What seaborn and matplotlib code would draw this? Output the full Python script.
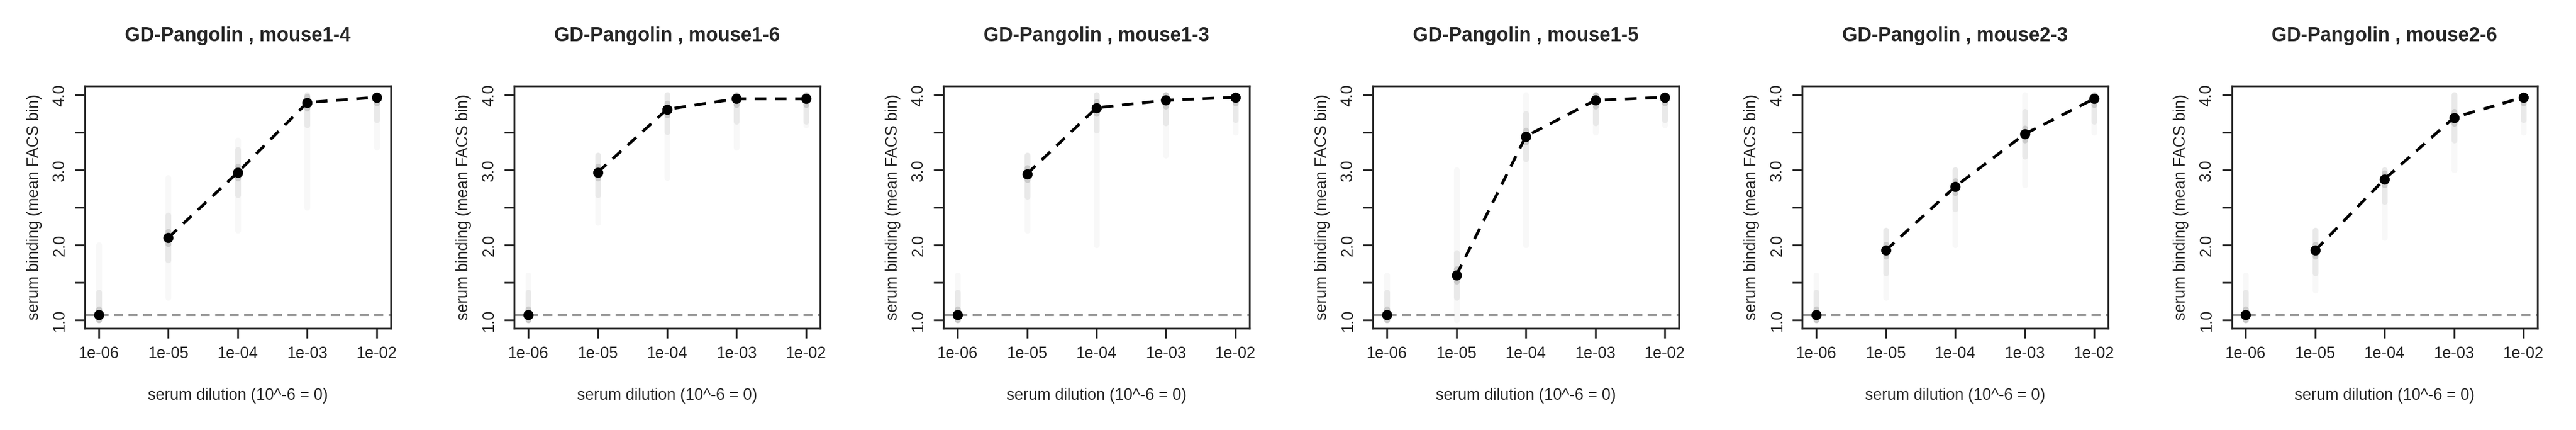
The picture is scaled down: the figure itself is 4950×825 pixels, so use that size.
import matplotlib
matplotlib.use("Agg")
import matplotlib.pyplot as plt
import seaborn as sns
import pandas as pd
import numpy as np

# ── data ─────────────────────────────────────────────────────
dilutions = [1e-6, 1e-5, 1e-4, 1e-3, 1e-2]
tick_labels = ["1e-06", "1e-05", "1e-04", "1e-03", "1e-02"]
mice = ["mouse1-4", "mouse1-6", "mouse1-3", "mouse1-5", "mouse2-3", "mouse2-6"]
means = {
    "mouse1-4": [1.07, 2.10, 2.97, 3.90, 3.97],
    "mouse1-6": [1.07, 2.97, 3.81, 3.95, 3.95],
    "mouse1-3": [1.07, 2.95, 3.83, 3.93, 3.97],
    "mouse1-5": [1.07, 1.60, 3.45, 3.93, 3.97],
    "mouse2-3": [1.07, 1.93, 2.78, 3.48, 3.95],
    "mouse2-6": [1.07, 1.93, 2.88, 3.70, 3.97],
}
# faint per-variant spread (ends of the grey streaks)
spread_lo = {
    "mouse1-4": [1.0, 1.3, 2.2, 2.5, 3.3],
    "mouse1-6": [1.0, 2.3, 2.9, 3.3, 3.6],
    "mouse1-3": [1.0, 2.2, 2.0, 3.2, 3.5],
    "mouse1-5": [1.0, 1.0, 2.0, 3.5, 3.6],
    "mouse2-3": [1.0, 1.3, 2.0, 2.8, 3.5],
    "mouse2-6": [1.0, 1.4, 2.1, 3.0, 3.5],
}
spread_hi = {
    "mouse1-4": [2.0, 2.9, 3.4, 4.0, 4.0],
    "mouse1-6": [1.6, 3.2, 4.0, 4.0, 4.0],
    "mouse1-3": [1.6, 3.2, 4.0, 4.0, 4.0],
    "mouse1-5": [1.6, 3.0, 4.0, 4.0, 4.0],
    "mouse2-3": [1.6, 2.2, 3.0, 4.0, 4.0],
    "mouse2-6": [1.6, 2.2, 3.0, 4.0, 4.0],
}
baseline = 1.07

sns.set_style("ticks")
plt.rcParams["font.family"] = ["Liberation Sans", "DejaVu Sans"]

fig, axes = plt.subplots(1, 6, figsize=(49.5, 8.25), dpi=100)
fig.subplots_adjust(left=0.033, right=0.985, top=0.80, bottom=0.236, wspace=0.405)

for ax, m in zip(axes, mice):
    # grey streaks: faint full range, denser core near the mean
    for x, lo, hi, mu in zip(dilutions, spread_lo[m], spread_hi[m], means[m]):
        ax.plot([x, x], [lo, hi], color="#c8c8c8", lw=8, alpha=0.12,
                solid_capstyle="round", zorder=1)
        ax.plot([x, x], [max(lo, mu - 0.3), min(mu + 0.3, hi)], color="#c0c0c0",
                lw=8, alpha=0.25, solid_capstyle="round", zorder=1)
        ax.plot([x, x], [max(lo, mu - 0.08), min(mu + 0.08, hi)], color="#b8b8b8",
                lw=8, alpha=0.6, solid_capstyle="round", zorder=1)
    df = pd.DataFrame({"dilution": dilutions, "binding": means[m]})
    sns.lineplot(data=df.iloc[1:], x="dilution", y="binding", ax=ax, color="black",
                 lw=4, linestyle=(0, (4, 3)), zorder=3)
    sns.scatterplot(data=df, x="dilution", y="binding", ax=ax, color="black",
                    s=170, edgecolor="black", zorder=4)
    ax.axhline(baseline, color="#808080", lw=2.5, ls=(0, (5, 3)), zorder=2)

    ax.set_xscale("log")
    ax.set_xlim(10 ** -6.2, 10 ** -1.8)
    ax.set_ylim(0.89, 4.12)
    ax.set_xticks(dilutions)
    ax.set_xticklabels(tick_labels)
    ax.minorticks_off()
    ax.set_yticks([1.0, 1.5, 2.0, 2.5, 3.0, 3.5, 4.0])
    ax.set_yticklabels(["1.0", "", "2.0", "", "3.0", "", "4.0"], rotation=90, va="center")
    ax.tick_params(axis="both", direction="out", length=14, width=2.5, labelsize=22, pad=10)
    for s in ax.spines.values():
        s.set_visible(True)
        s.set_linewidth(2.5)
    ax.set_title(f"GD-Pangolin , {m}", fontsize=27, fontweight="bold", pad=62)
    ax.set_xlabel("serum dilution (10^-6 = 0)", fontsize=22, labelpad=36)
    ax.set_ylabel("serum binding (mean FACS bin)", fontsize=22, labelpad=14)

fig.savefig("out.png", dpi=100, facecolor="white")
